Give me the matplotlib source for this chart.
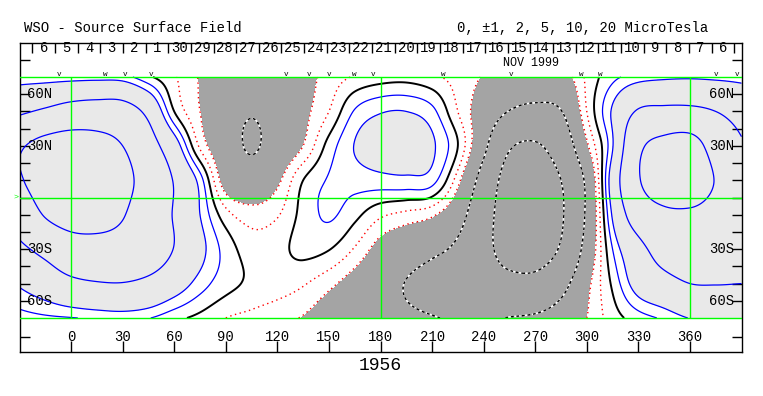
import numpy as np
import matplotlib
matplotlib.use('Agg')
import matplotlib.pyplot as plt

plt.rcParams['font.family'] = ['Liberation Mono', 'DejaVu Sans Mono']

# source surface field (microtesla), Carrington lon x latitude
lon_nodes = np.arange(-30, 391, 15)
lat_nodes = [70, 50, 30, 10, -10, -30, -50, -70]
b_70n = [1.3, 1.3, 1.4, 1.5, 1.4, 0.2, -0.9, -2.1, -3.0, -3.3, -3.0, -2.5, -1.6, -0.9, -0.5,
         -0.4, -0.8, -1.4, -2.1, -3.0, -3.2, -2.8, -0.8, 0.7, 1.4, 1.7, 1.8, 1.7, 1.6]
b_50n = [4.5, 5.5, 6.5, 6.8, 6.5, 4.2, 0.0, -2.0, -3.8, -4.8, -3.8, -2.4, -1.0, 1.1, 1.9,
         2.0, 1.3, -1.0, -3.0, -5.1, -5.8, -5.1, -1.0, 2.2, 5.3, 5.8, 5.8, 5.0, 3.8]
b_30n = [9.5, 11.5, 12.5, 12.0, 10.0, 6.5, 3.0, -1.2, -3.5, -5.3, -3.6, -2.0, 0.4, 2.05, 2.8,
         2.9, 2.2, 0.0, -4.2, -9.5, -10.5, -7.5, -2.3, 1.9, 9.0, 11.5, 12.0, 8.0, 5.5]
b_10n = [9.6, 12.0, 14.0, 14.0, 11.5, 8.0, 4.8, 1.5, -2.8, -3.5, -2.3, 0.0, 1.1, 1.4, 1.6,
         1.7, 1.4, -1.6, -6.5, -12.0, -13.0, -10.0, -4.3, 3.0, 9.6, 13.0, 13.5, 9.8, 8.0]
b_10s = [7.0, 10.3, 12.0, 12.0, 10.3, 7.0, 4.8, 2.0, -0.6, -1.5, -1.1, 0.35, 1.15, 0.3, -0.8,
         -1.3, -1.8, -3.7, -8.0, -12.5, -13.5, -10.5, -4.5, 2.2, 7.0, 9.0, 9.2, 8.3, 7.5]
b_30s = [4.3, 6.0, 7.8, 8.2, 8.0, 7.0, 4.9, 2.5, 0.6, -0.5, -0.3, 0.3, 0.05, -1.1, -2.6,
         -3.5, -4.4, -5.6, -8.5, -12.0, -12.5, -9.5, -3.8, 1.0, 4.0, 6.5, 7.2, 7.0, 6.8]
b_50s = [2.2, 3.2, 4.3, 4.8, 4.9, 4.3, 3.0, 1.5, 0.4, -0.2, -0.5, -0.9, -1.7, -2.7, -3.8,
         -5.1, -6.0, -6.6, -7.5, -8.5, -8.5, -6.2, -2.5, 0.2, 2.8, 4.0, 5.0, 5.1, 5.0]
b_70s = [0.6, 0.8, 0.95, 1.15, 1.3, 1.05, 0.3, -0.3, -1.0, -1.3, -1.7, -2.1, -3.0, -3.6, -4.2,
         -4.6, -4.9, -5.2, -5.3, -4.9, -4.5, -3.5, -2.0, -0.5, 0.5, 1.2, 2.05, 2.3, 2.3]

lon_labels = list(range(0, 361, 30))
lat_labels = {60: '60N', 30: '30N', -30: '30S', -60: '60S'}
day_labels = ['6', '5', '4', '3', '2', '1', '30', '29', '28', '27', '26', '25', '24', '23', '22', '21',
              '20', '19', '18', '17', '16', '15', '14', '13', '12', '11', '10', '9', '8', '7', '6']
first_day_lon = -22.5
deg_per_day = 13.17
obs_lons = [-6.8, 20, 31.6, 46.6, 125.3, 138.7, 150.3, 164.9, 175.8, 216.7, 255.7, 296.5, 308.1, 375, 387.2]
obs_marks = ['v', 'w', 'v', 'v', 'v', 'v', 'v', 'w', 'v', 'w', 'v', 'w', 'w', 'v', 'v']


def hermite(x, y, xn):
    x = np.asarray(x, float)
    y = np.asarray(y, float)
    h = np.diff(x)
    s = np.diff(y, axis=-1) / h
    d = np.empty_like(y)
    d[..., 1:-1] = (h[1:] * s[..., :-1] + h[:-1] * s[..., 1:]) / (h[1:] + h[:-1])
    d[..., 0] = s[..., 0]
    d[..., -1] = s[..., -1]
    i = np.clip(np.searchsorted(x, xn) - 1, 0, len(x) - 2)
    t = (xn - x[i]) / h[i]
    hh = h[i]
    return ((2 * t**3 - 3 * t**2 + 1) * y[..., i] + (t**3 - 2 * t**2 + t) * hh * d[..., i]
            + (-2 * t**3 + 3 * t**2) * y[..., i + 1] + (t**3 - t**2) * hh * d[..., i + 1])


grid = np.array([b_70n, b_50n, b_30n, b_10n, b_10s, b_30s, b_50s, b_70s])[::-1]
lats = np.array(lat_nodes[::-1], float)
lon_f = np.linspace(-30, 390, 841)
lat_f = np.linspace(-70, 70, 281)
z = hermite(lon_nodes, grid, lon_f)          # (8, nlon)
z = hermite(lats, z.T, lat_f).T              # (nlat, nlon)
LON, LAT = np.meshgrid(lon_f, lat_f)

fig = plt.figure(figsize=(7.63, 3.96), dpi=100)
ax = fig.add_axes([19.5 / 763, 43.6 / 396, 722 / 763, 309.8 / 396])
ax.set_xlim(-30, 390)
ax.set_ylim(-90, 90)

ax.contourf(LON, LAT, z, levels=[-99, -2, 2, 99], colors=['#a4a4a4', 'white', '#e9e9e9'])
ax.contour(LON, LAT, z, levels=[1, 2, 5, 10, 20], colors='#0000ff', linewidths=0.9)
ax.contour(LON, LAT, z, levels=[0], colors='black', linewidths=1.4)
ax.contour(LON, LAT, z, levels=[-2, -1], colors='#ff0000', linewidths=1.0,
           linestyles=[(0, (1, 2.5))])
ax.contour(LON, LAT, z, levels=[-20, -10, -5], colors='white', linewidths=1.2)
ax.contour(LON, LAT, z, levels=[-20, -10, -5], colors='black', linewidths=1.0,
           linestyles=[(0, (2, 2))])

green = '#00ff00'
for la in (-70, 0, 70):
    ax.axhline(la, color=green, lw=1.0, zorder=5)
ax.vlines([0, 180, 360], -70, 70, color=green, lw=1.0, zorder=5)
ax.text(-30.5, 0, '>', color=green, fontsize=6, ha='right', va='center')

# frame ticks
ax.set_xticks(lon_labels)
ax.set_yticks([-81] + list(range(-60, 61, 10)) + [80])
ax.tick_params(axis='x', direction='in', length=8, width=1, bottom=True, top=False, labelbottom=False)
ax.tick_params(axis='y', direction='in', length=7, width=1, left=True, right=True, labelleft=False)
for sp in ax.spines.values():
    sp.set_linewidth(1.0)

for lo in lon_labels:
    ax.text(lo, -81, str(lo), fontsize=10, ha='center', va='center')
for la, s in lat_labels.items():
    ax.text(-25.4, la, s, fontsize=10, ha='left', va='center', zorder=6)
    ax.text(386, la, s, fontsize=10, ha='right', va='center', zorder=6)

# day strip
tick_lons = first_day_lon + deg_per_day * np.arange(len(day_labels) + 1)
ax.vlines(tick_lons, 84, 90, color='black', lw=1.0, clip_on=False)
for k, s in enumerate(day_labels):
    ax.text(tick_lons[k] + deg_per_day / 2, 86.6, s, fontsize=10, ha='center', va='center')
ax.text(267.3, 78.0, 'NOV 1999', fontsize=8.5, ha='center', va='center')
for lo, m in zip(obs_lons, obs_marks):
    ax.text(lo, 71.6, m, fontsize=5.5, ha='center', va='center')

fig.text(24 / 763, 1 - 28 / 396, 'WSO - Source Surface Field', fontsize=10, ha='left', va='center')
fig.text(457 / 763, 1 - 28 / 396, '0, \u00b11, 2, 5, 10, 20 MicroTesla', fontsize=10, ha='left', va='center')
fig.text(380 / 763, 1 - 366 / 396, '1956', fontsize=13, ha='center', va='center')

fig.savefig('out.png', dpi=100)
